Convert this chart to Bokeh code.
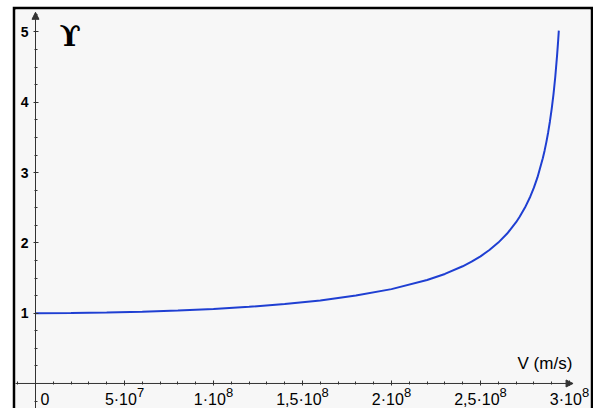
from bokeh.plotting import figure
from bokeh.layouts import column, row
from bokeh.models import (FixedTicker, Label, Arrow, NormalHead, Range1d, ColumnDataSource, Spacer)
from bokeh.core.properties import value
from bokeh.embed import file_html
from bokeh.resources import INLINE

# Data: velocity (m/s) and Lorentz factor gamma
v = [0, 2e7, 4e7, 6e7, 8e7, 1e8, 1.2e8, 1.4e8, 1.6e8, 1.8e8, 2e8, 2.2e8,
     2.3e8, 2.4e8, 2.45e8, 2.5e8, 2.55e8, 2.6e8, 2.65e8, 2.7e8, 2.72e8,
     2.75e8, 2.78e8, 2.8e8, 2.82e8, 2.85e8, 2.86e8, 2.87e8, 2.88e8, 2.89e8,
     2.9e8, 2.91e8, 2.92e8, 2.93e8, 2.935e8, 2.94e8]
gamma = [1.0, 1.002, 1.009, 1.021, 1.038, 1.061, 1.091, 1.131, 1.182, 1.25,
         1.342, 1.471, 1.558, 1.667, 1.733, 1.809, 1.898, 2.004, 2.133, 2.294,
         2.371, 2.502, 2.660, 2.785, 2.931, 3.203, 3.312, 3.434, 3.571, 3.727,
         3.906, 4.113, 4.36, 4.66, 4.83, 5.02]

x_ticks = [5e7, 1e8, 1.5e8, 2e8, 2.5e8, 3e8]
x_tick_base = ["5·10", "1·10", "1,5·10", "2·10", "2,5·10", "3·10"]
x_tick_exp = ["7", "8", "8", "8", "8", "8"]
x_minor = [i * 1e7 for i in range(-1, 31)]
y_ticks = [1, 2, 3, 4, 5]
y_minor = [i * 0.25 for i in range(-1, 22)]

FONT = "Liberation Sans"
BASE_PX = 16
EXP_PX = 13
CW = {",": 0.278, "·": 0.333}


def text_w(s, px):
    return sum(CW.get(ch, 0.556) for ch in s) * px


p = figure(width=581, height=402, output_backend="svg", toolbar_location=None,
           x_range=Range1d(-1.124e7, 3.118e8), y_range=Range1d(-0.356, 5.32),
           min_border_left=3, min_border_right=3, min_border_top=3, min_border_bottom=0)
p.background_fill_color = "#f7f7f7"
p.border_fill_color = "black"   # acts as the black frame on left/top/right
p.outline_line_color = None
p.xgrid.visible = False
p.ygrid.visible = False

src = ColumnDataSource(dict(v=v, gamma=gamma))
p.line("v", "gamma", source=src, line_color="#1f3fd2", line_width=2)

# axes placed at data origin
p.xaxis.fixed_location = 0
p.yaxis.fixed_location = 0
for ax in (p.xaxis, p.yaxis):
    ax.axis_line_color = None
    ax.major_tick_line_color = "#333333"
    ax.minor_tick_line_color = "#333333"
    ax.major_tick_in = 3
    ax.major_tick_out = 2
    ax.minor_tick_in = 2
    ax.minor_tick_out = 1
    ax.major_label_text_font = FONT
    ax.major_label_text_color = "black"

p.xaxis.ticker = FixedTicker(ticks=[0] + x_ticks, minor_ticks=x_minor)
p.xaxis.major_label_overrides = {t: "" for t in [0] + x_ticks}

p.yaxis.ticker = FixedTicker(ticks=y_ticks, minor_ticks=y_minor)
p.yaxis.major_label_text_font_size = "14px"
p.yaxis.major_label_text_font_style = "bold"
p.yaxis.major_label_standoff = 5

# x tick labels with real-size exponents
shift = [(text_w(b, BASE_PX) - text_w(e, EXP_PX)) / 2 for b, e in zip(x_tick_base, x_tick_exp)]
lab = ColumnDataSource(dict(x=x_ticks, y=[0] * len(x_ticks), base=x_tick_base,
                            exp=x_tick_exp, dx=shift))
p.text("x", "y", text="base", source=lab, x_offset="dx", y_offset=16,
       text_align="right", text_baseline="alphabetic", text_font=value(FONT),
       text_font_size=value(f"{BASE_PX}px"), text_color="black")
p.text("x", "y", text="exp", source=lab, x_offset="dx", y_offset=9,
       text_align="left", text_baseline="alphabetic", text_font=value(FONT),
       text_font_size=value(f"{EXP_PX}px"), text_color="black")

# axis lines with arrow heads
p.add_layout(Arrow(x_start=-1.2e7, y_start=0, x_end=3.02e8, y_end=0,
                   line_color="#333333", line_width=1,
                   end=NormalHead(size=7, fill_color="#333333", line_color="#333333")))
p.add_layout(Arrow(x_start=0, y_start=-0.4, x_end=0, y_end=5.28,
                   line_color="#333333", line_width=1,
                   end=NormalHead(size=7, fill_color="#333333", line_color="#333333")))

# labels
p.add_layout(Label(x=0, y=0, x_offset=5, y_offset=-16, text="0", text_baseline="alphabetic",
                   text_font=FONT, text_font_size=f"{BASE_PX}px", text_color="black"))
p.add_layout(Label(x=1.35e7, y=4.934, text="ϒ", text_font="DejaVu Serif", text_baseline="alphabetic",
                   text_font_style="bold", text_font_size="28px", text_color="black"))
p.add_layout(Label(x=2.708e8, y=0.29, text="V (m/s)", text_font=FONT, text_baseline="alphabetic",
                   text_font_size="17px", text_color="black"))

layout = column(Spacer(height=6), row(Spacer(width=12), p))
open("out.html", "w").write(file_html(layout, INLINE))
